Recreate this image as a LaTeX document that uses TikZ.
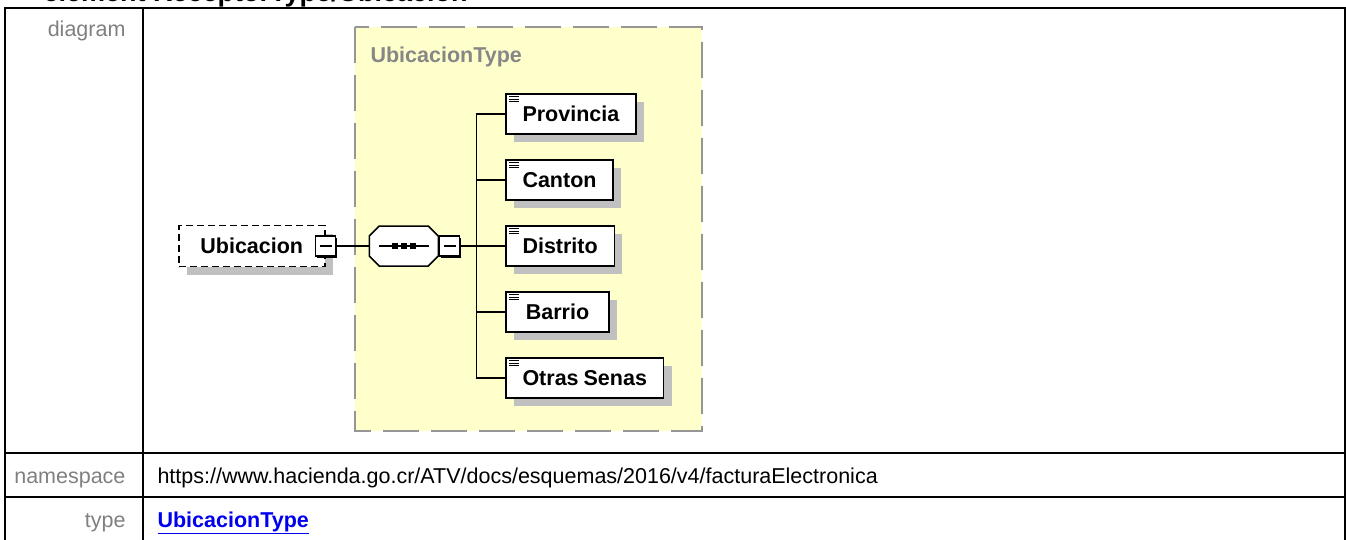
\documentclass[tikz,border=0pt]{standalone}
\usepackage{fontspec}
\setmainfont{Liberation Sans}
\usetikzlibrary{positioning,shadows}
\definecolor{typefill}{RGB}{255,255,204}
\definecolor{typeframe}{RGB}{150,150,150}
\definecolor{typetext}{RGB}{135,135,135}
\definecolor{shadowgray}{RGB}{192,192,192}
\definecolor{labelgray}{RGB}{128,128,128}
\definecolor{linkblue}{RGB}{0,0,238}
\newcommand{\docfont}{\fontsize{21.5}{26}\selectfont}

\begin{document}
\begin{tikzpicture}[
  x=1pt, y=-1pt,
  every node/.style={font=\docfont},
  tablerule/.style={line width=2.2pt},
  rowlabel/.style={anchor=base east, text=labelgray},
  rowvalue/.style={anchor=base west},
  conn/.style={line width=1.5pt},
  typebox/.style={fill=typefill, draw=typeframe, line width=2.5pt, dash pattern=on 36pt off 12pt},
  elem/.style={rectangle, draw, fill=white, line width=1.5pt, minimum height=40pt, inner xsep=16.5pt, inner ysep=0pt, font=\docfont\bfseries,
    drop shadow={shadow xshift=8pt, shadow yshift=-8pt, fill=shadowgray, opacity=1}},
  leaf/.style={elem, minimum width=103pt,
    path picture={\foreach \d in {2.5,5,7.5} \draw[line width=0.9pt] ([xshift=3pt,yshift=-\d pt]path picture bounding box.north west) -- ++(10,0);}},
  optelem/.style={elem, dash pattern=on 7pt off 4pt, minimum width=146pt, minimum height=41pt},
  expander/.style={rectangle, draw, fill=white, line width=1.5pt, minimum size=20pt, inner sep=0pt,
    drop shadow={shadow xshift=1.8pt, shadow yshift=-1.8pt, fill=black, opacity=1},
    path picture={\draw[line width=1.2pt] ([xshift=4pt]path picture bounding box.west) -- ([xshift=-4pt]path picture bounding box.east);}},
  seqbox/.style={rectangle, minimum width=69pt, minimum height=40pt, inner sep=0pt, outer sep=0pt},
  octagon/.style={line width=1.5pt, line join=miter},
]
  \useasboundingbox (0,0) rectangle (1346,540);
  \clip (0,0) rectangle (1346,540);

  % page heading, cut off at the top
  \node[anchor=base west, font=\fontsize{27}{30}\selectfont\bfseries] (pagetitle) at (40,1.2) {element ReceptorType/Ubicacion};

  % table
  \draw[tablerule] (5,545) -- (5,8) -- (1345,8) -- (1345,545);
  \draw[tablerule] (143,8) -- (143,545);
  \draw[tablerule] (5,453) -- (1345,453);
  \draw[tablerule] (5,497) -- (1345,497);

  \node[rowlabel] (lbldiagram) at (129,37) {diagram};
  \node[rowlabel] (lblns) at (129,483) {namespace};
  \node[rowlabel] (lbltype) at (129,527) {type};
  \node[rowvalue] (nsvalue) at (154,483) {https://www.hacienda.go.cr/ATV/docs/esquemas/2016/v4/facturaElectronica};
  \node[rowvalue, text=linkblue, font=\docfont\bfseries] (typevalue) at (154,527) {\underline{UbicacionType}};

  % complex type frame
  \draw[typebox] (355,27) rectangle (702,431);
  \node[anchor=base west, text=typetext, font=\docfont\bfseries] (typetitle) at (367,63) {UbicacionType};

  % element and sequence
  \node[optelem, anchor=west] (ubi) at (178,246) {Ubicacion\hspace{7pt}};
  \node[expander] (ubix) at (ubi.east) {};
  \node[seqbox, right=33pt of ubix] (seq) {};
  \fill[shadowgray, shift={(8,8)}] ([xshift=10pt]seq.north west) -- ([xshift=-10pt]seq.north east) -- ([yshift=-10pt]seq.north east)
    -- ([yshift=10pt]seq.south east) -- ([xshift=-10pt]seq.south east) -- ([xshift=10pt]seq.south west)
    -- ([yshift=10pt]seq.south west) -- ([yshift=-10pt]seq.north west) -- cycle;
  \draw[octagon, fill=white] ([xshift=10pt]seq.north west) -- ([xshift=-10pt]seq.north east) -- ([yshift=-10pt]seq.north east)
    -- ([yshift=10pt]seq.south east) -- ([xshift=-10pt]seq.south east) -- ([xshift=10pt]seq.south west)
    -- ([yshift=10pt]seq.south west) -- ([yshift=-10pt]seq.north west) -- cycle;
  \draw[line width=1.2pt] ([xshift=-25pt]seq.center) -- ([xshift=25pt]seq.center);
  \foreach \dx in {-9,0,9}
    \fill ([xshift=\dx pt]seq.center) ++(-3,-3) rectangle ++(6,6);
  \node[expander, right=0.5pt of seq] (seqx) {};
  \coordinate[right=16pt of seqx] (trunk);

  % children
  \node[leaf, right=29pt of trunk] (distrito) {Distrito};
  \node[leaf, above=24.5pt of distrito.north west, anchor=south west] (canton) {Canton};
  \node[leaf, above=24.5pt of canton.north west, anchor=south west] (provincia) {Provincia};
  \node[leaf, below=24.5pt of distrito.south west, anchor=north west] (barrio) {Barrio};
  \node[leaf, below=24.5pt of barrio.south west, anchor=north west] (otras) {Otras\kern5pt Senas};

  % connectors
  \draw[conn] (ubix) -- (seq);
  \draw[conn] (seqx) -- (trunk);
  \draw[conn] (provincia.west -| trunk) -- (otras.west -| trunk);
  \foreach \c in {provincia,canton,distrito,barrio,otras}
    \draw[conn] (\c.west -| trunk) -- (\c.west);
\end{tikzpicture}
\end{document}
